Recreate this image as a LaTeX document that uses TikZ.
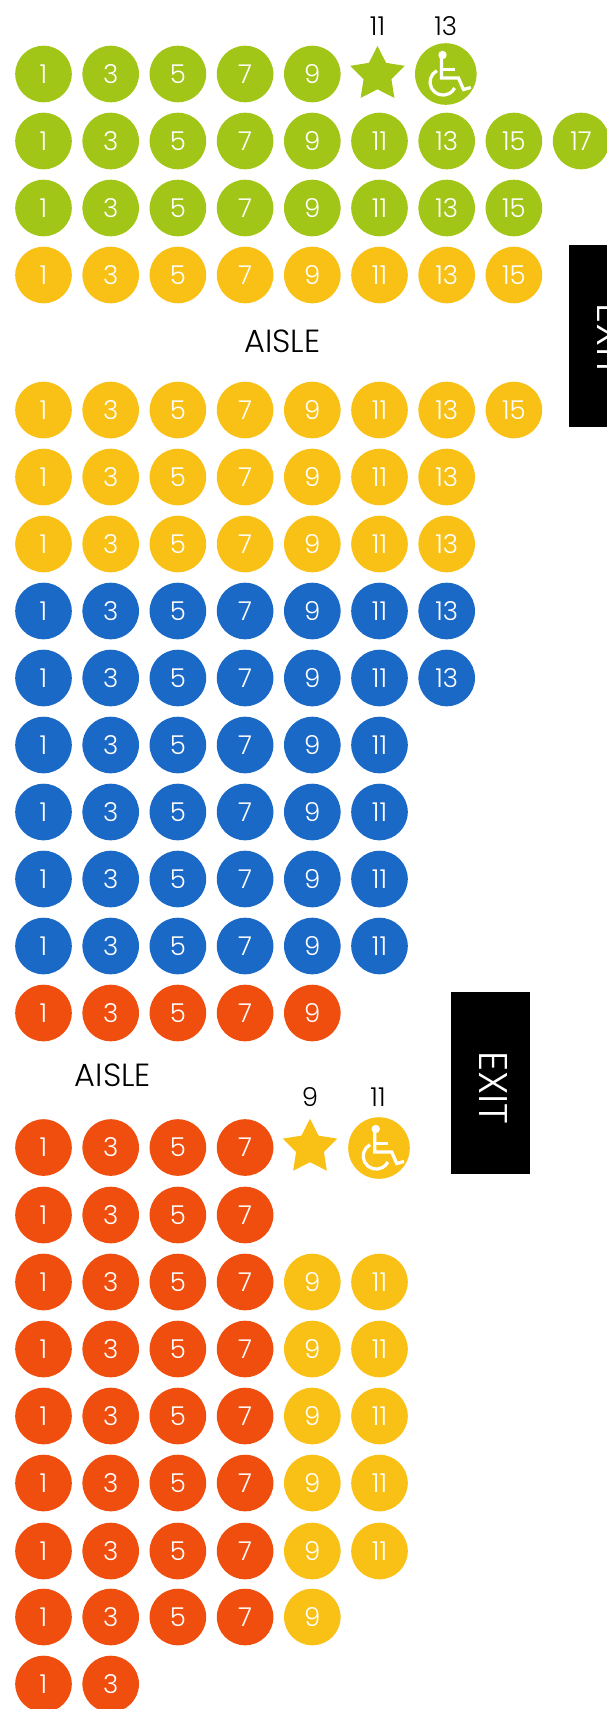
\documentclass[tikz,border=0pt]{standalone}
\usepackage{fontspec}
\setmainfont{Poppins Light}
\usetikzlibrary{shapes.geometric}
\definecolor{seatgreen}{HTML}{A2C617}
\definecolor{seatyellow}{HTML}{F9C116}
\definecolor{seatblue}{HTML}{1B69C6}
\definecolor{seatorange}{HTML}{F04E0E}
\tikzset{
  seat/.style={circle,fill=#1,text=white,inner sep=0pt,minimum size=56.6pt,font=\fontsize{26}{26}\selectfont\addfontfeature{Numbers=Monospaced}},
  accessseat/.style={circle,fill=#1,inner sep=0pt,minimum size=61.6pt},
  starseat/.style={star,star points=5,star point ratio=1.96,fill=#1,inner sep=0pt,outer sep=0pt,minimum size=57.4pt},
  seatlabel/.style={text=black,font=\fontsize{26}{26}\selectfont\addfontfeature{Numbers=Monospaced}},
  aisle/.style={text=black,font=\fontsize{32}{32}\selectfont},
  exitbox/.style={fill=black,inner sep=0pt,minimum width=79pt,minimum height=182pt},
  exittext/.style={text=white,rotate=-90,inner sep=0pt,font=\fontsize{40}{40}\selectfont},
  pics/wheelchair/.style={code={
    \fill[white] (-3.3,-19) circle (4.2);
    \draw[white,line width=3.2pt] (-4.3,-16)--(-4.3,4)--(12.7,4)--(17.7,15.5)--(25,13.5);
    \draw[white,line width=3.2pt] (-4.3,-4.7)--(9.3,-4.7);
    \draw[white,line width=3.2pt] (-9,-3.3) arc[start angle=118.7,end angle=333,radius=13pt];
  }}
}
% x(n) gives the column of seat number n
\newcommand{\seatrow}[4]{%
  \foreach \n in {#3} {\node[seat=#1] (s#2-\n) at ({43.5+33.6*(\n-1)},#2) {\n};}%
}
\begin{document}
\begin{tikzpicture}[x=1pt,y=-1pt]
  \useasboundingbox (0,0) rectangle (607,1709);
  % ===================== front block =====================
  \seatrow{seatgreen}{74}{1,3,5,7,9}{}
  \node[starseat=seatgreen] (star1) at (377.5,74.7) {};
  \node[accessseat=seatgreen] (wheel1) at (445.8,74) {};
  \pic at (wheel1) {wheelchair};
  \node[seatlabel] (lab11) at (377.5,26) {11};
  \node[seatlabel] (lab13) at (445.8,26) {13};
  \seatrow{seatgreen}{141}{1,3,5,7,9,11,13,15,17}{}
  \seatrow{seatgreen}{208}{1,3,5,7,9,11,13,15}{}
  \seatrow{seatyellow}{275}{1,3,5,7,9,11,13,15}{}
  \node[aisle] (aisle1) at (282.5,341) {AISLE};
  % ===================== middle block =====================
  \seatrow{seatyellow}{410}{1,3,5,7,9,11,13,15}{}
  \foreach \y in {477,544} {\seatrow{seatyellow}{\y}{1,3,5,7,9,11,13}{}}
  \foreach \y in {611,678} {\seatrow{seatblue}{\y}{1,3,5,7,9,11,13}{}}
  \foreach \y in {745,812,879,946} {\seatrow{seatblue}{\y}{1,3,5,7,9,11}{}}
  \seatrow{seatorange}{1013}{1,3,5,7,9}{}
  \node[aisle] (aisle2) at (113,1075) {AISLE};
  % ===================== rear block =====================
  \node[seatlabel] (lab9) at (310,1097) {9};
  \node[seatlabel] (lab11b) at (378,1097) {11};
  \seatrow{seatorange}{1147.5}{1,3,5,7}{}
  \node[starseat=seatyellow] (star2) at (310,1147.5) {};
  \node[accessseat=seatyellow] (wheel2) at (379,1148) {};
  \pic at (wheel2) {wheelchair};
  \seatrow{seatorange}{1215}{1,3,5,7}{}
  \foreach \y in {1282,1349,1416,1483,1551} {
    \seatrow{seatorange}{\y}{1,3,5,7}{}
    \seatrow{seatyellow}{\y}{9,11}{}
  }
  \seatrow{seatorange}{1617}{1,3,5,7}{}
  \seatrow{seatyellow}{1617}{9}{}
  \seatrow{seatorange}{1684}{1,3}{}
  % ===================== exits =====================
  \node[exitbox] (exit1) at (608.5,335.5) {};
  \node[exittext] (exit1text) at (611,340.5) {EXIT};
  \node[exitbox] (exit2) at (490.5,1083) {};
  \node[exittext] (exit2text) at (493,1088) {EXIT};
\end{tikzpicture}
\end{document}
